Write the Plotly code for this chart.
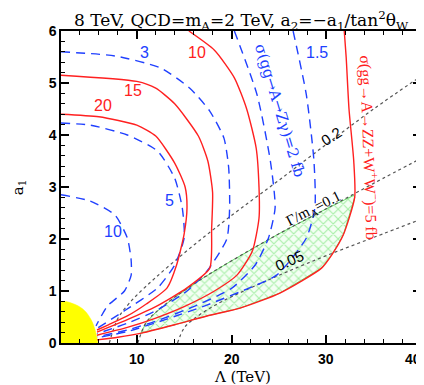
import plotly.graph_objects as go

# ---------------- data ----------------
# red solid contours: sigma(gg->A->ZZ+WW) [fb]
red20_lam = [2, 6, 10, 12, 14, 15.1, 15.3, 15.0, 14.2, 13.2, 11, 9, 7, 5.8]
red20_a1 = [4.40, 4.35, 4.19, 3.98, 3.46, 3.0, 2.6, 2.1, 1.5, 1.06, 0.75, 0.52, 0.35, 0.25]
red15_lam = [2, 10, 12, 14, 16.5, 17.5, 18.0, 17.9, 17.7, 15.3, 12, 9, 7, 5.8]
red15_a1 = [5.15, 5.03, 4.9, 4.6, 3.98, 3.5, 2.9, 2.2, 1.44, 1.06, 0.7, 0.45, 0.3, 0.21]
red10_lam = [15.5, 18.2, 20.3, 21.6, 22.6, 22.9, 22.9, 22.2, 20.6, 18.2, 15, 12, 9, 5.8]
red10_a1 = [6.0, 5.63, 5.1, 4.5, 3.75, 3.0, 2.4, 1.77, 1.31, 1.0, 0.7, 0.48, 0.3, 0.15]
red5_lam = [31.9, 32.1, 32.4, 32.9, 33.0, 31.8, 30.6, 29.5, 25.1, 20.9, 17.4, 14, 10.5, 8, 5.8]
red5_a1 = [6.0, 5.5, 4.5, 3.5, 2.8, 2.08, 1.70, 1.44, 0.96, 0.67, 0.52, 0.35, 0.19, 0.11, 0.06]

# blue dashed contours: sigma(gg->A->Z gamma) [fb]
blue10_lam = [2, 5.1, 7.7, 9.0, 9.4, 9.4, 8.7, 6.9, 5.7]
blue10_a1 = [2.85, 2.73, 2.46, 2.02, 1.6, 1.3, 1.0, 0.71, 0.33]
blue5_lam = [2, 5.1, 9.0, 12.2, 14.0, 14.8, 15.0, 14.0, 12.2, 8.7, 5.8]
blue5_a1 = [4.23, 4.19, 4.0, 3.69, 3.17, 2.6, 2.02, 1.5, 1.06, 0.62, 0.28]
blue3_lam = [2, 7.7, 12.5, 15.6, 17.7, 19.2, 19.7, 19.8, 19.5, 17.4, 15.3, 12, 9, 5.8]
blue3_a1 = [5.60, 5.52, 5.29, 4.9, 4.46, 3.94, 3.37, 2.6, 2.0, 1.38, 1.0, 0.62, 0.38, 0.18]
blue2_lam = [20.3, 22.7, 24.1, 24.6, 23.9, 22.5, 20, 16, 12, 9, 5.8]
blue2_a1 = [6.0, 4.77, 3.5, 2.6, 2.02, 1.5, 1.05, 0.7, 0.42, 0.25, 0.12]
blue15_lam = [26.5, 27.9, 28.7, 28.8, 27.9, 24.8, 21.9, 17.4, 13, 9, 5.8]
blue15_a1 = [6.0, 4.77, 3.5, 2.6, 2.02, 1.31, 1.06, 0.73, 0.45, 0.22, 0.1]

# dotted lines of constant Gamma/m_A
g02_lam = [7.1, 8, 9, 10, 12, 15, 18, 21, 25, 30, 35, 40]
g02_a1 = [0, 0.47, 0.72, 0.92, 1.26, 1.73, 2.17, 2.59, 3.13, 3.82, 4.5, 5.13]
g01_lam = [10.1, 11, 12, 14, 17, 20, 25, 30, 35, 40]
g01_a1 = [0, 0.40, 0.59, 0.88, 1.25, 1.58, 2.1, 2.58, 3.07, 3.55]
g005_lam = [14.3, 15, 16, 18, 20, 23, 26, 30, 35, 40]
g005_a1 = [0, 0.29, 0.46, 0.70, 0.89, 1.14, 1.38, 1.68, 2.03, 2.38]

# green hatched region: below Gamma/m_A=0.1, inside the 5 fb contour
green_lam = [10.45, 11, 12, 14, 17, 20, 25, 30, 32.9, 33.0, 31.8, 30.6, 29.5, 25.1, 20.9, 17.4, 14, 10.45]
green_a1 = [0.19, 0.40, 0.59, 0.88, 1.25, 1.58, 2.1, 2.58, 2.84, 2.8, 2.08, 1.70, 1.44, 0.96, 0.67, 0.52, 0.35, 0.19]

# yellow excluded corner
yellow_lam = [2, 2, 3.5, 4.5, 5.2, 5.6, 5.9]
yellow_a1 = [0, 0.78, 0.74, 0.62, 0.44, 0.25, 0]

x_ticks = [10, 20, 30, 40]
y_ticks = [0, 1, 2, 3, 4, 5, 6]

RED = "#ff2020"
BLUE = "#2040ff"
fig = go.Figure()

fig.add_trace(go.Scatter(x=green_lam, y=green_a1, mode="lines", fill="toself",
                         fillcolor="rgba(255,255,255,0)",
                         fillpattern=dict(shape="x", fgcolor="#55dd55", bgcolor="#f4fff4", size=7, solidity=0.28),
                         line=dict(color="#66dd66", width=1), hoverinfo="skip"))
fig.add_trace(go.Scatter(x=yellow_lam, y=yellow_a1, mode="lines", fill="toself",
                         fillcolor="#ffff00", line=dict(color="#ffff00", width=0.5, shape="spline")))

for lx, ly in [(g02_lam, g02_a1), (g01_lam, g01_a1), (g005_lam, g005_a1)]:
    fig.add_trace(go.Scatter(x=lx, y=ly, mode="lines", line=dict(color="#555555", width=1.2, dash="dot", shape="spline")))

for lx, ly in [(blue10_lam, blue10_a1), (blue5_lam, blue5_a1), (blue3_lam, blue3_a1),
               (blue2_lam, blue2_a1), (blue15_lam, blue15_a1)]:
    fig.add_trace(go.Scatter(x=lx, y=ly, mode="lines",
                             line=dict(color=BLUE, width=1.4, dash="9px,6px", shape="spline", smoothing=0.6)))

for lx, ly in [(red20_lam, red20_a1), (red15_lam, red15_a1), (red10_lam, red10_a1), (red5_lam, red5_a1)]:
    fig.add_trace(go.Scatter(x=lx, y=ly, mode="lines",
                             line=dict(color=RED, width=1.4, shape="spline", smoothing=0.6)))

SANS = "Liberation Sans"
SERIF = "Liberation Serif"
DSERIF = "DejaVu Serif"
ann = []
def lab(x, y, t, c, size=16, ang=0, font=SANS):
    ann.append(dict(x=x, y=y, xref="x", yref="y", text=t, showarrow=False, textangle=ang,
                    xanchor="center", yanchor="middle",
                    font=dict(family=font, size=size, color=c)))

lab(16.4, 5.58, "10", RED)
lab(9.56, 4.85, "15", RED)
lab(6.4, 4.56, "20", RED)
lab(10.8, 5.58, "3", BLUE)
lab(29.0, 5.58, "1.5", BLUE)
lab(13.4, 2.75, "5", BLUE)
lab(7.46, 2.15, "10", BLUE)
lab(25.1, 4.46, "σ(gg→A→Zγ)=2 fb", BLUE, 15, 73, DSERIF)
lab(34.6, 3.75, "σ(gg→A→ZZ+W<sup>+</sup>W<sup>−</sup>)=5 fb", RED, 16, 88, SERIF)
lab(30.5, 3.97, "0.2", "black", 15, -33, SANS)
lab(28.7, 2.58, "Γ/m<sub>A</sub>=0.1", "black", 15, -27, SERIF)
lab(26.1, 1.58, "0.05", "black", 15, -24, SANS)

W, H = 424, 385
L, R, T, B = 53, 9, 23, 50
pw, ph = W - L - R, H - T - B
def pix(px, py, text, size, ang=0):
    ann.append(dict(x=(px - L) / pw, y=(H - B - py) / ph, xref="paper", yref="paper",
                    xanchor="center", yanchor="middle", text=text, showarrow=False, textangle=ang,
                    font=dict(family=DSERIF, size=size, color="black")))

pix(234, 13, "8 TeV, QCD=m<sub>A</sub>=2 TeV, a<sub>2</sub>=−a<sub>1</sub>/tan<sup>2</sup>θ<sub>W</sub>", 17)
pix(236, 369, "Λ (TeV)", 15)
pix(10, 179, "a<sub>1</sub>", 15, -90)

# x tick labels drawn as annotations so the last one stays inside the page
for v in x_ticks:
    last = (v == x_ticks[-1])
    ann.append(dict(x=v, y=(H - B - 351) / ph, xref="x", yref="paper",
                    xanchor=("right" if last else "center"), yanchor="middle",
                    text="<b>%d</b>" % v, showarrow=False, xshift=(2 if last else 0),
                    font=dict(family=SANS, size=14, color="black")))

axis_common = dict(showgrid=False, zeroline=False, showline=True, linecolor="black", linewidth=1.5,
                   mirror="ticks", ticks="inside", ticklen=8, tickwidth=1.5, tickcolor="black",
                   tickfont=dict(family=SANS, size=14, color="black"))
fig.update_layout(
    width=W, height=H, margin=dict(l=L, r=R, t=T, b=B),
    paper_bgcolor="white", plot_bgcolor="white", showlegend=False,
    annotations=ann,
    xaxis=dict(range=[2, 40], tickvals=x_ticks, showticklabels=False,
               minor=dict(dtick=2, tick0=0, ticks="inside", ticklen=4, tickcolor="black", tickwidth=1),
               **axis_common),
    yaxis=dict(range=[0, 6], tickvals=y_ticks, ticktext=["<b>%d</b>" % v for v in y_ticks],
               minor=dict(dtick=0.2, tick0=0, ticks="inside", ticklen=4, tickcolor="black", tickwidth=1),
               **axis_common),
)
fig.write_html("out.html")
